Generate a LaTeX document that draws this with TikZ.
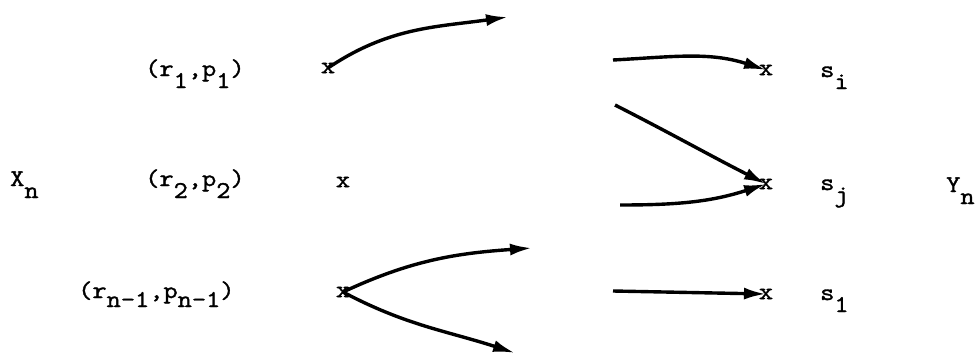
\documentclass[tikz,border=0pt]{standalone}
\usepackage{fontspec}
\newfontfamily\tw{Latin Modern Mono}[FakeStretch=1.15,FakeBold=1.5]
\usetikzlibrary{arrows.meta}
\newcommand{\lo}[1]{\raisebox{-12pt}{#1}}
\newcommand{\lom}[1]{\raisebox{-9pt}{#1}}
\tikzset{
  lbl/.style={anchor=base west, inner sep=0pt, font=\tw\fontsize{24}{27}\selectfont},
  cross/.style={inner sep=0pt, font=\tw\fontsize{24}{27}\selectfont},
  arr/.style={line width=3.4pt, -{Latex[length=22pt,width=12pt]}}
}
\begin{document}
\begin{tikzpicture}[x=1pt,y=-1pt]
\useasboundingbox (0,0) rectangle (979,356);
% left labels
\node[lbl] (Xn) at (10,186) {X\lo{n}};
\node[lbl] (r1) at (145,76) {(r\lo{1},p\lo{1})};
\node[lbl] (r2) at (145,186) {(r\lo{2},p\lo{2})};
\node[lbl] (r3) at (78,298) {(r\lom{n-1},p\lom{n-1})};
% crosses
\node[cross] (x1) at (328,68) {x};
\node[cross] (x2) at (343,182) {x};
\node[cross] (x3) at (343,292) {x};
\node[cross] (xi) at (766,70) {x};
\node[cross] (xj) at (766,184) {x};
\node[cross] (xs) at (766,294) {x};
% right labels
\node[lbl] (si) at (820,77) {s\lo{i}};
\node[lbl] (sj) at (820,190) {s\lo{j}};
\node[lbl] (s1) at (820,300) {s\lo{1}};
\node[lbl] (Yn) at (946,192) {Y\lo{n}};
% free ends
\coordinate (a1) at (508,17);
\coordinate (a2) at (532,248);
\coordinate (a3) at (515,353);
\coordinate (b1) at (613,60);
\coordinate (b2) at (615,105);
\coordinate (b3) at (620,205);
\coordinate (b4) at (613,291);
% arrows
\draw[arr] (x1.center) to[out=34,in=188] (a1);
\draw[arr] (x3.center) to[out=25,in=184] (a2);
\draw[arr] (x3.center) to[out=-28,in=162] (a3);
\draw[arr] (b1) to[out=3,in=162] (xi.center);
\draw[arr] (b2) to[out=-27,in=153] (xj.center);
\draw[arr] (b3) to[out=0,in=198] (xj.center);
\draw[arr] (b4) -- (xs.center);
\end{tikzpicture}
\end{document}
